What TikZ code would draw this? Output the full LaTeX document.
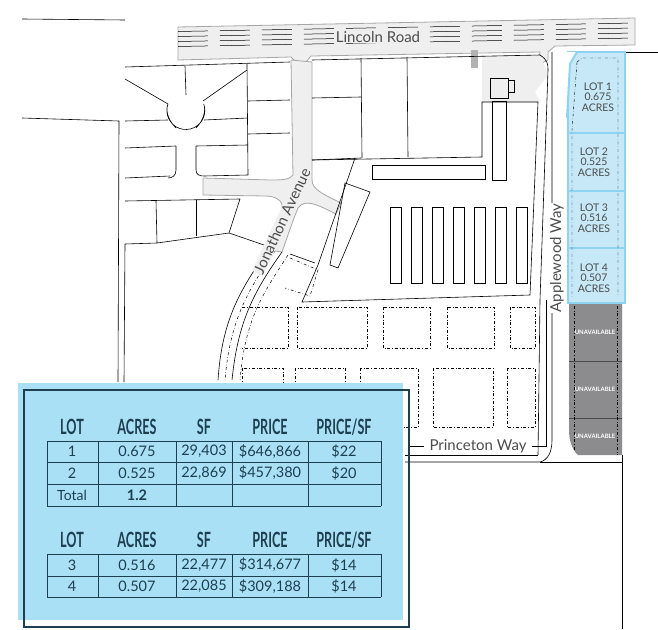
\documentclass[tikz,border=0pt]{standalone}
\usepackage{fontspec}
\setmainfont{Lato}
\usetikzlibrary{calc}
\definecolor{lotblue}{HTML}{C6E8F7}
\definecolor{lotedge}{HTML}{8FD3F2}
\definecolor{tblue}{HTML}{A9E0F6}
\definecolor{tdark}{HTML}{1E3F4F}
\definecolor{rdgray}{HTML}{EFEFEF}
\definecolor{unav}{HTML}{8C8C8E}
\tikzset{
  pl/.style={draw=black,line width=0.6pt},
  dd/.style={draw=black,line width=0.5pt,dash dot},
  road/.style={fill=rdgray,draw=gray!70,line width=0.8pt},
  lbl/.style={font=\fontsize{10.5}{10.5}\selectfont,text=black!70,align=center,inner sep=0},
  rl/.style={font=\fontsize{15}{15}\selectfont,text=black!70,inner sep=0.5pt},
  hd/.style={font=\bfseries\fontsize{21}{21}\selectfont,text=tdark,xscale=0.6,inner sep=0},
  cl/.style={font=\fontsize{14.5}{14.5}\selectfont,text=tdark,inner sep=0},
  un/.style={font=\bfseries\fontsize{6}{7}\selectfont,text=white,inner sep=0}
}
\begin{document}
\begin{tikzpicture}[x=1pt,y=-1pt]
\useasboundingbox (0,0) rectangle (658,629);
\fill[white] (0,0) rectangle (658,629);
% Lincoln Road
\path[road] (178,27) -- (635,18) -- (635,45) -- (555,46) -- (548,52) -- (548,60) -- (538,65) -- (540,52) -- (311,56) -- (306,62) -- (296,62) -- (291,57) -- (178,60) -- cycle;
\foreach \y in {31,36,41,46} \draw[black,line width=0.5pt,dash pattern=on 30pt off 12pt] (178,\y+0.5) -- (635,\y-8);
\node[rl,fill=rdgray] (lincoln) at (378,37) {Lincoln Road};
% light area near entrance
\fill[rdgray] (482,56) -- (540,55) -- (548,75) -- (535,92) -- (540,102) -- (482,102) -- cycle;
\fill[gray!60] (471,50) rectangle (478,68);
% Jonathon Avenue and cross street
\path[road] (291,60) -- (293,175) .. controls (290,180) and (280,180) .. (270,180) -- (203,178) -- (203,195) -- (265,196) .. controls (275,196) and (284,200) .. (282,210)
  .. controls (278,225) and (272,240) .. (268,250) -- (282,252) .. controls (288,235) and (293,220) .. (298,208) .. controls (305,198) and (318,205) .. (336,214)
  -- (341,203) .. controls (325,195) and (312,190) .. (312,180) -- (312,62) -- cycle;
\draw[pl] (229,233) -- (264,245); \draw[pl] (290,254) -- (315,263);
\draw[pl] (268,250) .. controls (240,290) and (222,320) .. (218,380);
\draw[pl] (282,252) .. controls (255,290) and (238,320) .. (232,380);
\draw[dd] (275,251) .. controls (248,290) and (230,320) .. (225,380);
\draw[dd] (288,255) .. controls (262,295) and (245,320) .. (240,380);
\node[rl,rotate=65,fill=rdgray] (jon) at (282,221) {Jonathon Avenue};
% cul-de-sac and left parcels
\draw[pl] (125,67) -- (290,62);
\draw[pl] (125,79) -- (168,104); \draw[pl] (203,101) -- (247,70);
\draw[pl] (185,66) -- (186,95);
\draw[pl] (247,64) -- (248,175);
\draw[pl] (248,101) -- (290,100); \draw[pl] (248,134) -- (290,133);
\draw[pl] (125,121) -- (168,120); \draw[pl] (125,148) -- (176,146); \draw[pl] (196,146) -- (248,145);
\draw[pl] (125,178) -- (170,176); \draw[pl] (204,120) -- (248,118);
\draw[pl] (176,146) -- (176,170) .. controls (176,176) and (172,178) .. (168,178);
\draw[pl] (196,146) -- (196,170) .. controls (196,175) and (200,176) .. (204,176) -- (248,175);
\draw[pl,fill=white] (176,128) .. controls (166,118) and (166,108) .. (168,104) arc[start angle=200,end angle=-20,radius=19] .. controls (206,110) and (204,120) .. (196,128);
\draw[pl] (125,201) -- (240,199) -- (229,233) -- (157,243) -- (125,244);
\draw[pl] (156,201) -- (157,243); \draw[pl] (196,200) -- (196,236);
\draw[pl] (22,19) -- (125,20);
\draw[pl] (22,118) -- (119,121) -- (118,382);
\draw[pl] (125,244) -- (124,382);
% parcels north of parking
\draw[pl] (312,60) -- (540,55);
\draw[pl] (312,98) -- (361,97); \draw[pl] (312,160) -- (361,158);
\draw[pl] (361,58) -- (362,158); \draw[pl] (407,57) -- (408,157);
\draw[pl] (312,160) -- (482,157) -- (482,102) -- (538,102) -- (530,295) -- (302,302) -- (318,265) -- (355,158);
\draw[pl] (490,78) rectangle (508,98); \draw[pl] (508,80) rectangle (514,92);
\draw[pl] (492,101) rectangle (506,180);
\draw[pl] (372,165) rectangle (485,179);
\foreach \i in {0,...,6} \draw[pl] (390+\i*21,207) rectangle (401+\i*21,283);
\draw[pl] (345,183) -- (370,192) -- (338,268) -- (330,265) -- cycle;
\draw[pl] (540,55) .. controls (548,60) and (548,65) .. (548,70);
\draw[pl] (548,70) -- (540,300) -- (538,455);
\draw[pl] (552,52) -- (552,300) -- (552,440) .. controls (552,452) and (548,460) .. (540,462) -- (405,462);
\draw[pl] (538,455) -- (405,455);
% dashed future lots
\foreach \a/\b/\c/\d in {297/307/367/348, 383/307/430/348, 447/307/494/348, 510/307/535/348,
  242/368/283/427, 295/368/345/427, 360/368/418/427, 433/368/493/427, 507/368/535/427}
  \draw[dd] (\a,\b) rectangle (\c,\d);
\draw[dd] (242,307) -- (288,307) -- (288,348) -- (240,348);
\draw[dd] (290,258) -- (318,270) -- (310,296) -- (285,288);
% Princeton
\node[rl,fill=white] (princeton) at (478,446) {Princeton Way};
\draw[pl] (408,446) -- (424,446); \draw[pl] (532,446) -- (546,446) -- (546,300);
\node[rl,rotate=90,fill=white] (apple) at (557,258) {Applewood Way};
% unavailable
\fill[unav] (569,304) -- (622,304) -- (622,455) -- (578,455) .. controls (572,450) and (569,440) .. (569,430) -- cycle;
\draw[black!70] (569,361) -- (622,361); \draw[black!70] (569,418) -- (622,418);
\draw[black,dash dot,line width=0.4pt] (574,306) -- (574,450); \draw[black,dash dot,line width=0.4pt] (617,306) -- (617,455);
\node[un] (u1) at (595,332) {UNAVAILABLE};
\node[un] (u2) at (595,389) {UNAVAILABLE};
\node[un] (u3) at (595,436) {UNAVAILABLE};
\draw[pl] (622,455) -- (622,629); \draw[pl] (540,462) -- (622,462);
\draw[pl] (625,52) -- (658,52);
% lots
\foreach \t/\b in {52/133,133/191,191/248,248/303}{
  \path[fill=lotblue,draw=lotedge,line width=2pt] (568,\t) rectangle (625,\b);}
\path[fill=white] (565,52) -- (577,52) -- (570,64) -- (566,130) -- (565,130) -- cycle;
\draw[lotedge,line width=2pt] (577,52) -- (570,64) -- (567,118);
\draw[black,dash dot,line width=0.4pt] (577,62) -- (582,58) -- (618,58) -- (618,297);
\draw[black,dash dot,line width=0.4pt] (577,62) -- (572,130) -- (572,297);
\node[lbl] (l1) at (598,97) {LOT 1\\0.675\\ACRES};
\node[lbl] (l2) at (594,162) {LOT 2\\0.525\\ACRES};
\node[lbl] (l3) at (594,218) {LOT 3\\0.516\\ACRES};
\node[lbl] (l4) at (594,278) {LOT 4\\0.507\\ACRES};
% table
\fill[tblue] (18,383) rectangle (403,620);
\draw[tdark,line width=2.5pt] (24,390) rectangle (409,627);
\foreach \y/\z in {441/506,554/597}{
  \foreach \x in {47,98,176,232,308,381} \draw[tdark,line width=0.7pt] (\x,\y) -- (\x,\z);}
\foreach \y in {441,462,484,506,554,576,597} \draw[tdark,line width=0.7pt] (47,\y) -- (381,\y);
\foreach \y in {427,540}{
  \node[hd] at (72,\y) {LOT}; \node[hd] at (137,\y) {ACRES}; \node[hd] at (204,\y) {SF};
  \node[hd] at (270,\y) {PRICE}; \node[hd] at (344,\y) {PRICE/SF};}
\foreach \y/\a/\b/\c/\d/\e in {451.5/1/0.675/{29,403}/{\$646,866}/\$22, 473/2/0.525/{22,869}/{\$457,380}/\$20,
  565/3/0.516/{22,477}/{\$314,677}/\$14, 586.5/4/0.507/{22,085}/{\$309,188}/\$14}{
  \node[cl] at (72,\y) {\a}; \node[cl] at (137,\y) {\b}; \node[cl] at (204,\y) {\c};
  \node[cl] at (270,\y) {\d}; \node[cl] at (344,\y) {\e};}
\node[cl,font=\fontsize{14}{14}\selectfont] (tot) at (72,495) {Total}; \node[cl,font=\bfseries\fontsize{14.5}{14.5}\selectfont] (totv) at (137,495) {1.2};
\end{tikzpicture}
\end{document}
